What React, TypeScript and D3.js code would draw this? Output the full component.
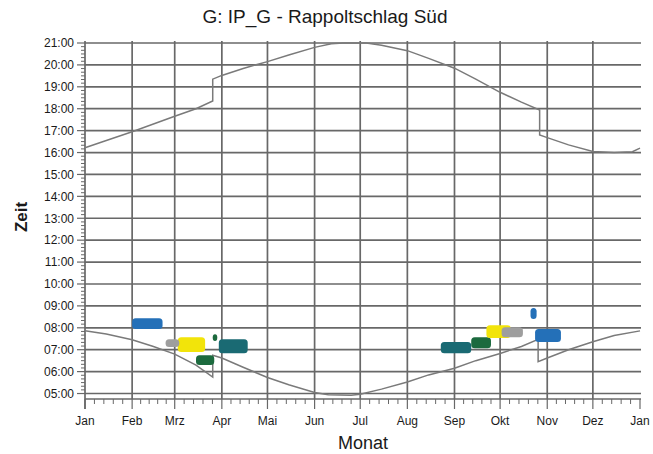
import React from 'react';
import * as d3 from 'd3';

// Monatsbeschriftung der x-Achse
const months = ['Jan', 'Feb', 'Mrz', 'Apr', 'Mai', 'Jun', 'Jul', 'Aug', 'Sep', 'Okt', 'Nov', 'Dez', 'Jan'];
// Stunden der y-Achse
const hours = [5, 6, 7, 8, 9, 10, 11, 12, 13, 14, 15, 16, 17, 18, 19, 20, 21];

// Sonnenuntergang (Datum MM-DD, Stunde)
const sunsetDates = ['01-01', '01-15', '02-01', '02-15', '03-01', '03-15', '03-26', '03-26', '04-01', '04-15', '05-01', '05-15', '06-01', '06-12', '06-20', '07-05', '07-15', '08-01', '08-15', '09-01', '09-15', '10-01', '10-15', '10-27', '10-27', '11-01', '11-15', '12-01', '12-15', '12-27', '+01-01'];
const sunsetHours = [16.22, 16.55, 16.95, 17.3, 17.66, 18.0, 18.35, 19.35, 19.52, 19.84, 20.15, 20.45, 20.8, 20.97, 21.0, 21.0, 20.9, 20.65, 20.3, 19.85, 19.35, 18.75, 18.3, 17.94, 16.8, 16.68, 16.35, 16.05, 16.0, 16.04, 16.2];

// Sonnenaufgang (Datum MM-DD, Stunde)
const sunriseDates = ['01-01', '01-15', '02-01', '02-15', '03-01', '03-15', '03-26', '03-26', '04-01', '04-15', '05-01', '05-15', '06-01', '06-10', '06-25', '07-01', '07-15', '08-01', '08-15', '09-01', '09-15', '10-01', '10-15', '10-26', '10-26', '11-01', '11-15', '12-01', '12-15', '+01-01'];
const sunriseHours = [7.87, 7.72, 7.45, 7.15, 6.8, 6.3, 5.75, 6.75, 6.62, 6.2, 5.73, 5.4, 5.05, 4.94, 4.92, 4.97, 5.2, 5.53, 5.85, 6.15, 6.5, 6.83, 7.15, 7.47, 6.45, 6.62, 7.0, 7.36, 7.65, 7.86];

// Messpunktgruppen: Beginn, Ende, Zeit von, Zeit bis, Reihe
const clusterStart = ['02-01', '03-03', '02-23', '03-15', '03-26', '03-30', '08-23', '09-12', '09-22', '10-02', '10-21', '10-24'];
const clusterEnd = ['02-21', '03-21', '03-04', '03-27', '03-29', '04-18', '09-12', '09-25', '10-08', '10-16', '10-25', '11-10'];
const clusterLow = [7.94, 6.89, 7.12, 6.3, 7.4, 6.84, 6.84, 7.07, 7.53, 7.57, 8.4, 7.35];
const clusterHigh = [8.44, 7.57, 7.48, 6.75, 7.7, 7.48, 7.35, 7.57, 8.12, 8.03, 8.9, 7.94];
const clusterSeries = ['blau', 'gelb', 'grau', 'gruen', 'gruen', 'petrol', 'petrol', 'gruen', 'gelb', 'grau', 'blau', 'blau'];

const seriesColor: Record<string, string> = {
  blau: '#2470b8',
  gelb: '#f2e40a',
  grau: '#9e9e9e',
  gruen: '#1c6a3e',
  petrol: '#1a6a73',
};

const parseDay = (s: string) => {
  // "+" bedeutet Folgejahr
  if (s.startsWith('+')) {
    const [m, d] = s.slice(1).split('-').map(Number);
    return new Date(2011, m - 1, d);
  }
  const [m, d] = s.split('-').map(Number);
  return new Date(2010, m - 1, d);
};

const fmtHour = (h: number) => (h < 10 ? '0' : '') + h + ':00';

export default function App() {
  const width = 653;
  const height = 454;
  const margin = { top: 43, right: 13, bottom: 55, left: 85 };
  const plotW = width - margin.left - margin.right;
  const plotH = height - margin.top - margin.bottom;

  const x = d3.scaleTime()
    .domain([new Date(2010, 0, 1), new Date(2011, 0, 1)])
    .range([margin.left, margin.left + plotW]);
  const y = d3.scaleLinear()
    .domain([4.75, 21])
    .range([margin.top + plotH, margin.top]);

  const monthTicks = months.map((_, i) => new Date(2010, i, 1));
  // 4 Zwischenstriche je Monat
  const minorX: Date[] = [];
  for (let i = 0; i < 12; i++) {
    const a = monthTicks[i].getTime();
    const b = monthTicks[i + 1].getTime();
    for (let k = 1; k < 5; k++) minorX.push(new Date(a + (b - a) * k / 5));
  }
  const minorY: number[] = [];
  for (let h = 5; h < 21; h++) {
    for (let k = 1; k < 6; k++) minorY.push(h + k / 6);
  }

  const line = d3.line<[Date, number]>()
    .x(d => x(d[0]))
    .y(d => y(d[1]));

  const sunset = line(sunsetDates.map((s, i) => [parseDay(s), sunsetHours[i]]));
  const sunrise = line(sunriseDates.map((s, i) => [parseDay(s), sunriseHours[i]]));

  const xLeft = margin.left;
  const xRight = margin.left + plotW + 1;
  const yBottom = margin.top + plotH;
  const gridColor = '#686868';
  const font = 'Liberation Sans, Arial, sans-serif';

  return (
    <svg width={width} height={height} style={{ position: 'absolute', left: 0, top: 0, background: '#fff' }}>
      <rect x={0} y={0} width={width} height={height} fill="#fff" />

      <text x={325} y={23} textAnchor="middle" fontFamily={font} fontSize={19} fill="#1a1a1a">
        G: IP_G - Rappoltschlag Süd
      </text>

      {/* horizontal grid */}
      {hours.map(h => (
        <line key={'h' + h} x1={xLeft} x2={xRight} y1={y(h)} y2={y(h)} stroke={gridColor} strokeWidth={1.7} />
      ))}
      {/* vertical grid */}
      {monthTicks.slice(1, 12).map((d, i) => (
        <line key={'v' + i} x1={x(d)} x2={x(d)} y1={margin.top - 2} y2={yBottom} stroke={gridColor} strokeWidth={1.7} />
      ))}

      {/* axes */}
      <line x1={xLeft} x2={xLeft} y1={margin.top - 2} y2={yBottom + 10} stroke={gridColor} strokeWidth={1.7} />
      <line x1={xLeft} x2={xRight} y1={yBottom} y2={yBottom} stroke={gridColor} strokeWidth={1.7} />

      {/* y ticks */}
      {hours.map(h => (
        <g key={'yt' + h}>
          <line x1={xLeft - 8} x2={xLeft} y1={y(h)} y2={y(h)} stroke={gridColor} strokeWidth={1.2} />
          <text x={xLeft - 11} y={y(h)} dy="0.36em" textAnchor="end" fontFamily={font} fontSize={12} fill="#1a1a1a">
            {fmtHour(h)}
          </text>
        </g>
      ))}
      {minorY.map((h, i) => (
        <line key={'ym' + i} x1={xLeft - 4} x2={xLeft} y1={y(h)} y2={y(h)} stroke={gridColor} strokeWidth={1} />
      ))}

      {/* x ticks */}
      {monthTicks.map((d, i) => (
        <g key={'xt' + i}>
          <line x1={x(d)} x2={x(d)} y1={yBottom} y2={yBottom + 10} stroke={gridColor} strokeWidth={1.2} />
          <text x={x(d)} y={yBottom + 26} textAnchor="middle" fontFamily={font} fontSize={12} fill="#1a1a1a">
            {months[i]}
          </text>
        </g>
      ))}
      {minorX.map((d, i) => (
        <line key={'xm' + i} x1={x(d)} x2={x(d)} y1={yBottom} y2={yBottom + 5} stroke={gridColor} strokeWidth={1} />
      ))}

      {/* Sonnenauf- und -untergang */}
      <path d={sunset ?? ''} fill="none" stroke="#7a7a7a" strokeWidth={1.5} />
      <path d={sunrise ?? ''} fill="none" stroke="#7a7a7a" strokeWidth={1.5} />

      {/* Messpunktgruppen */}
      {clusterStart.map((s, i) => {
        const x0 = x(parseDay(s));
        const x1 = x(parseDay(clusterEnd[i]));
        const y0 = y(clusterHigh[i]);
        const y1 = y(clusterLow[i]);
        return (
          <rect key={'c' + i} x={x0} y={y0} width={x1 - x0} height={y1 - y0}
            rx={Math.min(3.5, (y1 - y0) / 2)} fill={seriesColor[clusterSeries[i]]} />
        );
      })}

      <text transform={`translate(27,217) rotate(-90)`} textAnchor="middle" fontFamily={font} fontSize={17}
        fontWeight="bold" fill="#1a1a1a">
        Zeit
      </text>
      <text x={363} y={449} textAnchor="middle" fontFamily={font} fontSize={18} fill="#1a1a1a">
        Monat
      </text>
    </svg>
  );
}
